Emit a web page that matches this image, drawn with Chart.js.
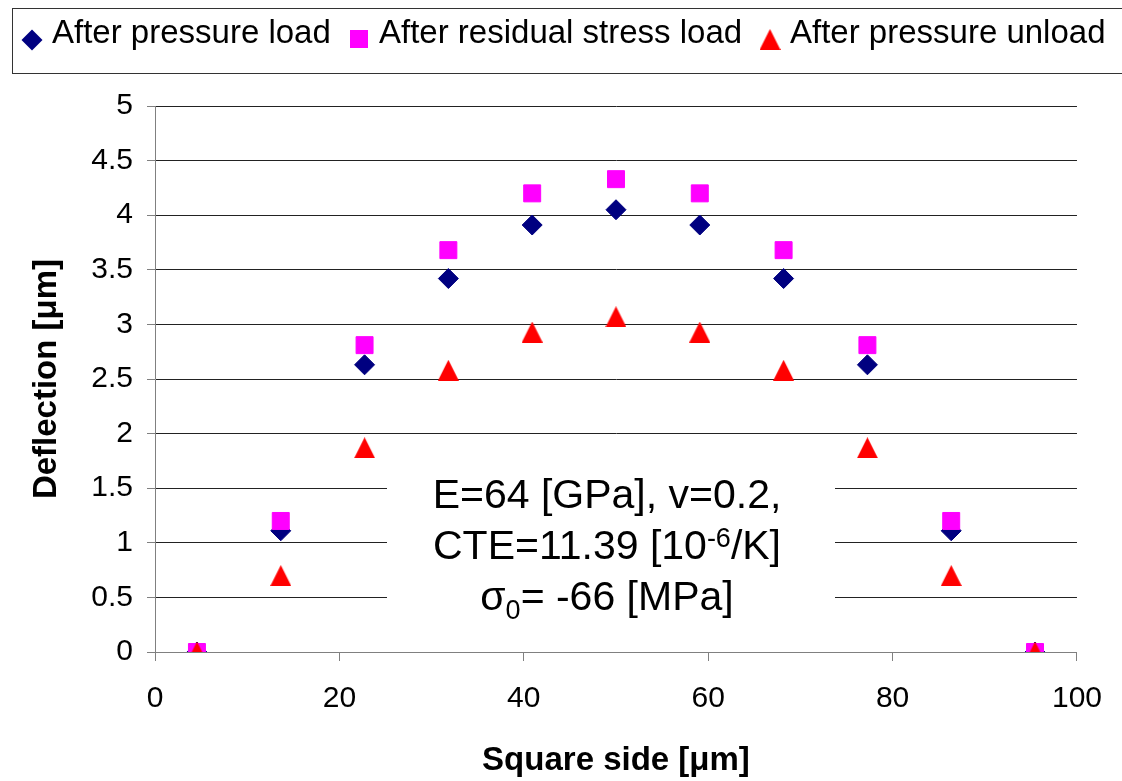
<!DOCTYPE html>
<html>
<head>
<meta charset="utf-8">
<script src="https://cdn.jsdelivr.net/npm/chart.js@4/dist/chart.umd.min.js"></script>
<style>
  html, body { margin: 0; padding: 0; background: #fff; }
  canvas { display: block; }
</style>
</head>
<body>
<canvas id="deflection" width="1122" height="781"></canvas>
<script>
// square side positions [um]
const side = [4.55, 13.64, 22.73, 31.82, 40.91, 50, 59.09, 68.18, 77.27, 86.36, 95.45];
// deflection [um]
const afterPressureLoad = [0, 1.11, 2.63, 3.42, 3.91, 4.05, 3.91, 3.42, 2.63, 1.11, 0];
const afterResidualLoad = [0, 1.2, 2.81, 3.68, 4.2, 4.33, 4.2, 3.68, 2.81, 1.2, 0];
const afterPressureUnload = [0, 0.7, 1.87, 2.58, 2.93, 3.07, 2.93, 2.58, 1.87, 0.7, 0];

const seriesNames = ['After pressure load', 'After residual stress load', 'After pressure unload'];
const xTitle = 'Square side [\u03bcm]';
const yTitle = 'Deflection [\u03bcm]';

const FONT = 'Liberation Sans, Arial, sans-serif';

// Excel-style triangle marker (a bit taller than Chart.js' equilateral one)
const tri = document.createElement('canvas');
tri.width = 21; tri.height = 21;
(function () {
  const c = tri.getContext('2d');
  c.fillStyle = '#ff0000';
  c.beginPath();
  c.moveTo(10.5, 0);
  c.lineTo(21, 21);
  c.lineTo(0, 21);
  c.closePath();
  c.fill();
})();

const toPoints = ys => ys.map((y, i) => ({ x: side[i], y: y }));

// legend in a framed strip along the top
const legendSlots = [32, 359, 770];
const topLegend = {
  id: 'topLegend',
  afterDraw(chart) {
    const ctx = chart.ctx;
    ctx.save();
    ctx.strokeStyle = '#333';
    ctx.lineWidth = 1;
    ctx.strokeRect(12.5, 8.5, 1130, 65);

    ctx.font = '33px ' + FONT;
    ctx.textBaseline = 'alphabetic';
    const my = 40;
    seriesNames.forEach((name, i) => {
      const x = legendSlots[i];
      if (i === 0) {
        ctx.fillStyle = '#000080';
        ctx.beginPath();
        ctx.moveTo(x - 10.5, my); ctx.lineTo(x, my - 10.5);
        ctx.lineTo(x + 10.5, my); ctx.lineTo(x, my + 10.5);
        ctx.closePath(); ctx.fill();
      } else if (i === 1) {
        ctx.fillStyle = '#ff00ff';
        ctx.fillRect(x - 9, my - 10, 18, 18);
      } else {
        ctx.drawImage(tri, x - 10.5, my - 11, 21, 21);
      }
      ctx.fillStyle = '#000';
      ctx.fillText(name, x + 20, 43);
    });
    ctx.restore();
  }
};

// material parameters box inside the plot
const paramBox = {
  id: 'paramBox',
  beforeDatasetsDraw(chart) {
    const ctx = chart.ctx;
    ctx.save();
    ctx.fillStyle = '#fff';
    ctx.fillRect(387, 455, 448, 185);
    ctx.fillStyle = '#000';
    ctx.textBaseline = 'alphabetic';
    const cx = 607;
    const big = '41px ' + FONT;
    const small = '27px ' + FONT;

    const runs = (parts, baseY) => {
      let w = 0;
      parts.forEach(p => { ctx.font = p[1]; w += ctx.measureText(p[0]).width; });
      let x = cx - w / 2;
      parts.forEach(p => {
        ctx.font = p[1];
        ctx.fillText(p[0], x, baseY + p[2]);
        x += ctx.measureText(p[0]).width;
      });
    };
    runs([['E=64 [GPa], v=0.2,', big, 0]], 508);
    runs([['CTE=11.39 [10', big, 0], ['-6', small, -12], ['/K]', big, 0]], 559);
    runs([['\u03c3', big, 0], ['0', small, 9], ['= -66 [MPa]', big, 0]], 610);
    ctx.restore();
  }
};

const tickFont = { family: FONT, size: 30 };
const titleFont = { family: FONT, size: 33, weight: 'bold' };

new Chart(document.getElementById('deflection').getContext('2d'), {
  type: 'scatter',
  data: {
    datasets: [
      {
        label: seriesNames[0],
        data: toPoints(afterPressureLoad),
        pointStyle: 'rectRot',
        pointRadius: 10,
        pointBorderWidth: 1,
        backgroundColor: '#000080',
        borderColor: '#000080',
        order: 3
      },
      {
        label: seriesNames[1],
        data: toPoints(afterResidualLoad),
        pointStyle: 'rect',
        pointRadius: 12,
        pointBorderWidth: 1,
        backgroundColor: '#ff00ff',
        borderColor: '#ff00ff',
        order: 2
      },
      {
        label: seriesNames[2],
        data: toPoints(afterPressureUnload),
        pointStyle: tri,
        pointRadius: 10,
        backgroundColor: '#ff0000',
        borderColor: '#ff0000',
        order: 1
      }
    ]
  },
  options: {
    responsive: false,
    animation: false,
    layout: { padding: { top: 106, right: 45, left: 0, bottom: 0 } },
    plugins: {
      legend: { display: false },
      tooltip: { enabled: false }
    },
    scales: {
      x: {
        type: 'linear',
        min: 0,
        max: 100,
        ticks: { stepSize: 20, color: '#000', font: tickFont, padding: 20, maxRotation: 0 },
        grid: { drawOnChartArea: false, tickLength: 9, tickColor: '#808080' },
        border: { color: '#808080' },
        title: { display: true, text: xTitle, color: '#000', font: titleFont, padding: 0 },
        afterFit(scale) { scale.height = 129; }
      },
      y: {
        min: 0,
        max: 5,
        ticks: { stepSize: 0.5, color: '#000', font: tickFont, padding: 14, callback: v => String(v) },
        grid: { color: '#222', tickLength: 8, tickColor: '#808080' },
        border: { color: '#808080' },
        title: { display: true, text: yTitle, color: '#000', font: titleFont, padding: { top: 27, bottom: 0 } },
        afterFit(scale) { scale.width = 155; }
      }
    }
  },
  plugins: [paramBox, topLegend]
});
</script>
</body>
</html>
